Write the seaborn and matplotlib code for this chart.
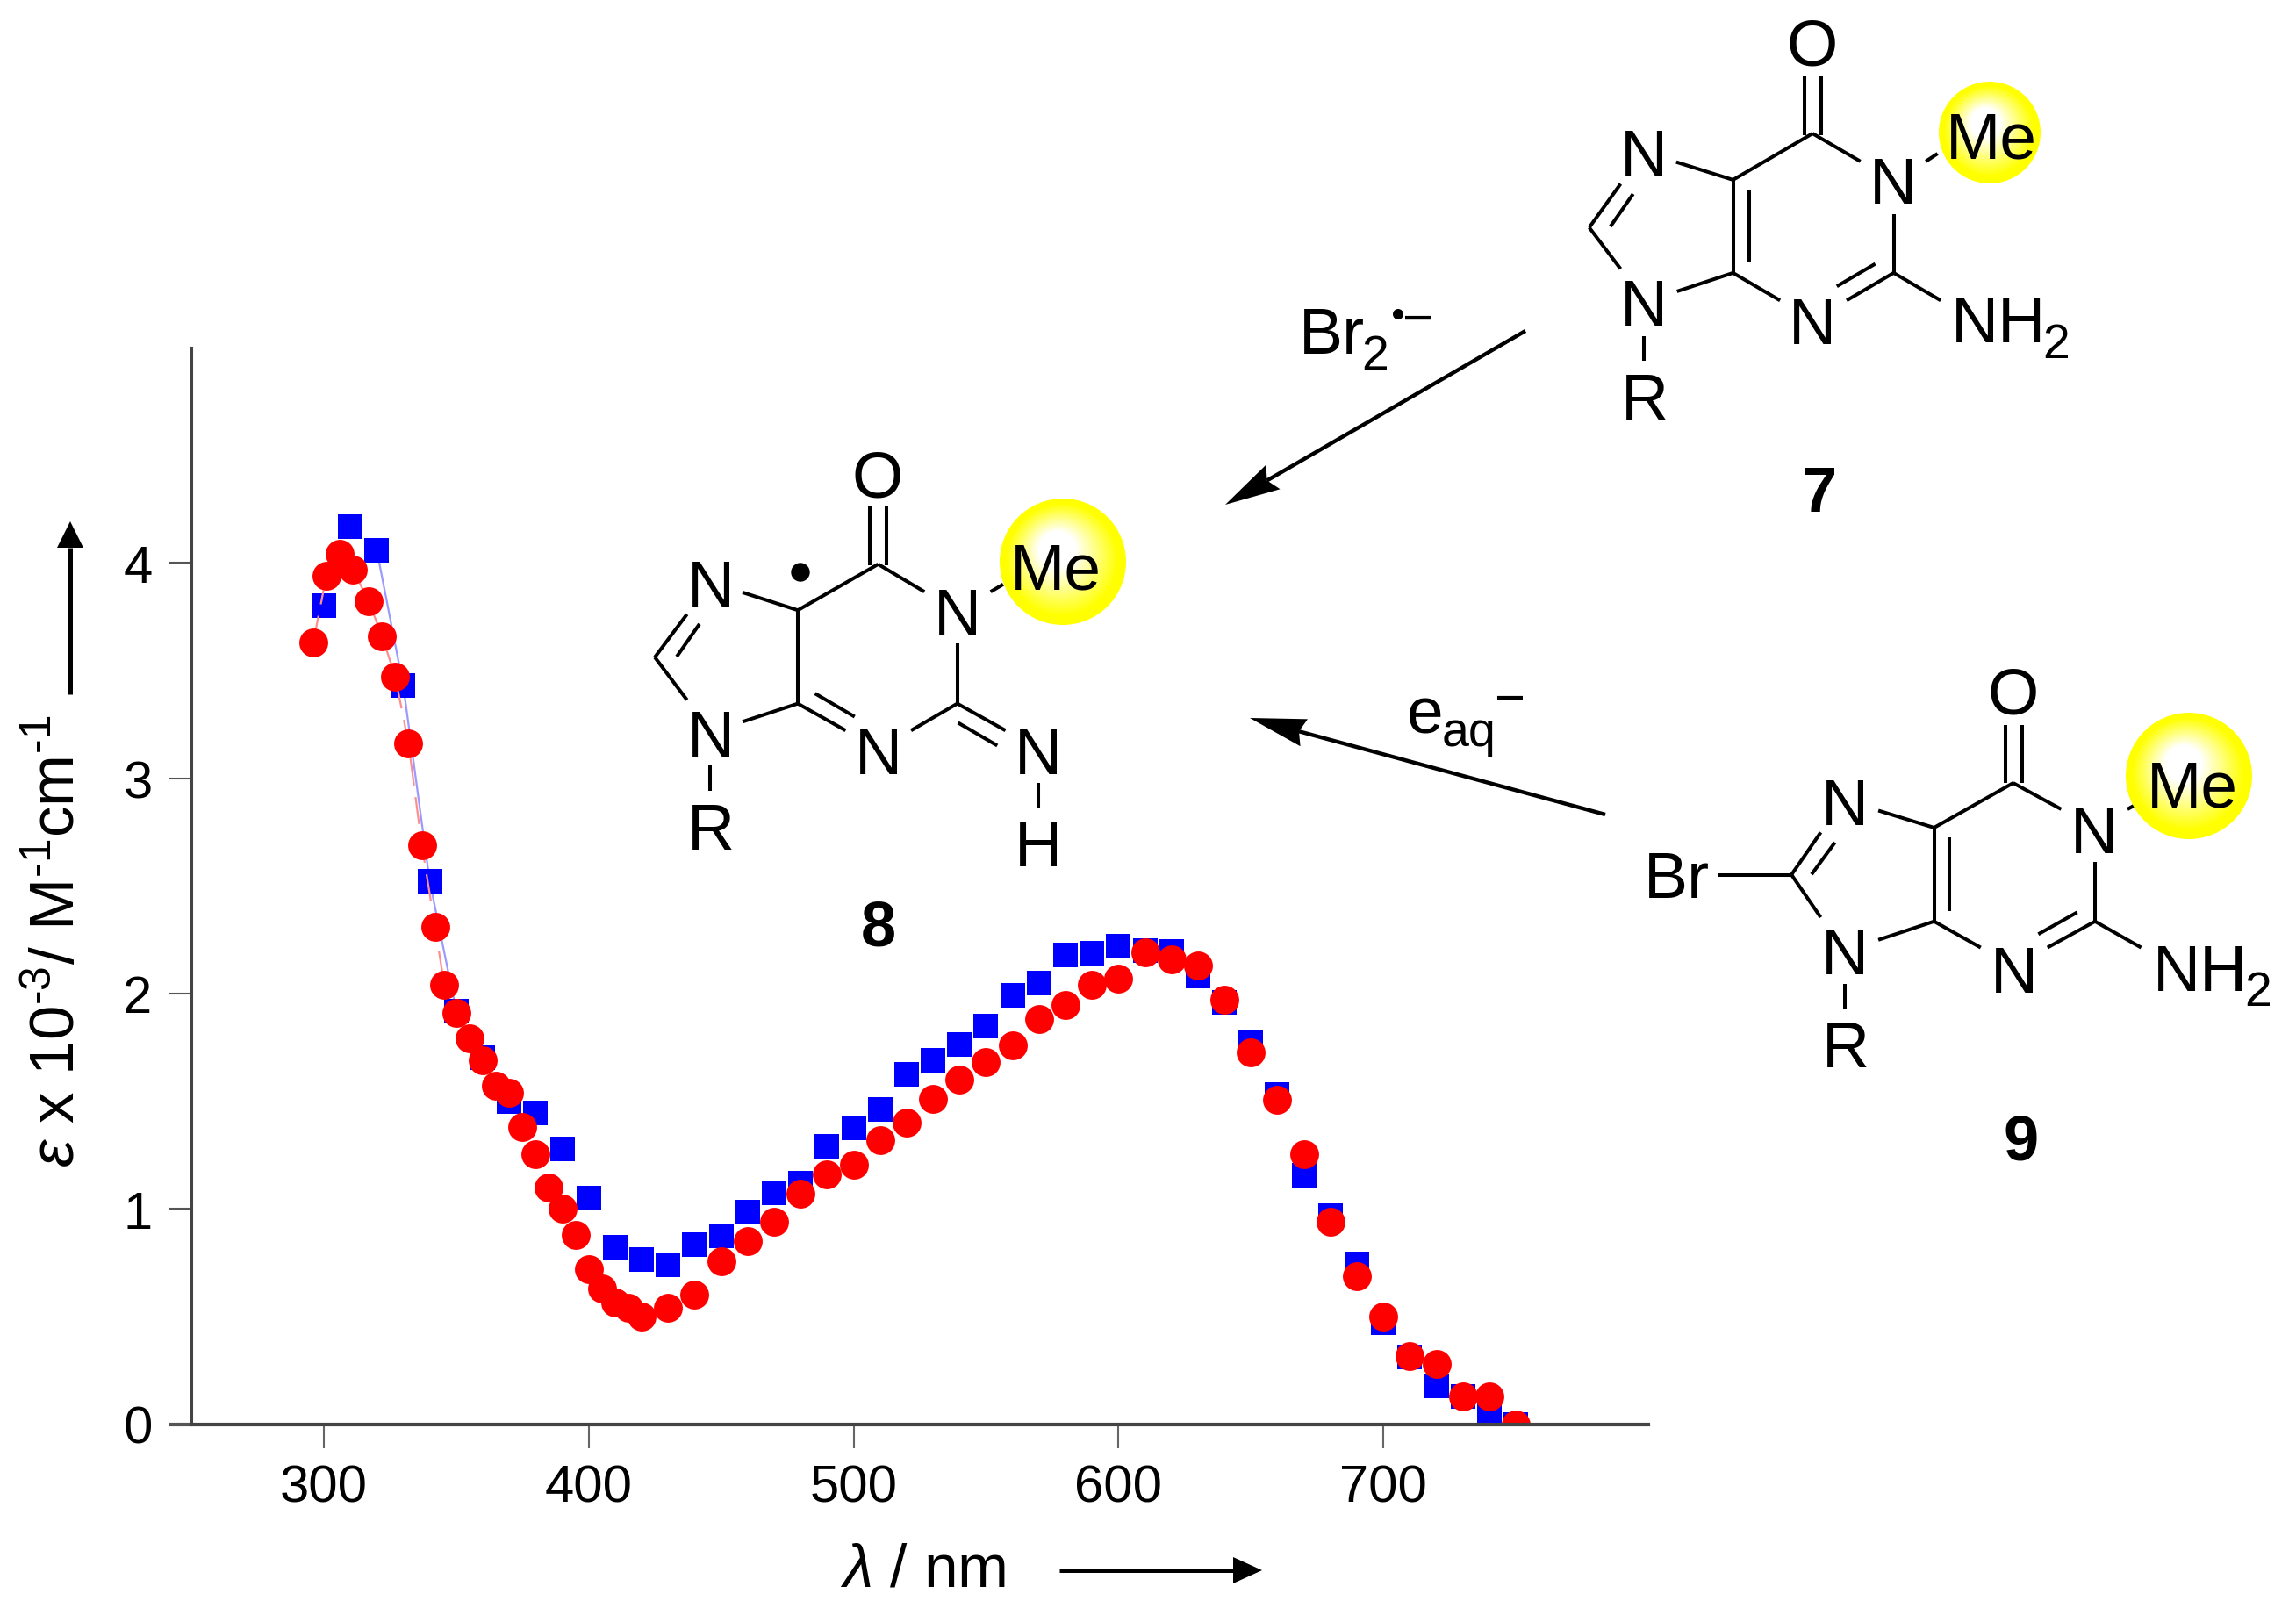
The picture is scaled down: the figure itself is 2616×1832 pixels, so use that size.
import matplotlib
matplotlib.use('Agg')
import matplotlib.pyplot as plt
import pandas as pd
import seaborn as sns
from matplotlib.patches import Circle, Polygon

# Spectrum values
wavelength_blue = [300, 310, 320, 330, 340, 350, 360, 370, 380, 390, 400, 410, 420, 430, 440, 450,
                   460, 470, 480, 490, 500, 510, 520, 530, 540, 550, 560, 570, 580, 590, 600, 610,
                   620, 630, 640, 650, 660, 670, 680, 690, 700, 710, 720, 730, 740, 750]
epsilon_blue = [3.80, 4.17, 4.06, 3.43, 2.52, 1.92, 1.70, 1.50, 1.445, 1.277, 1.05, 0.82, 0.765, 0.74, 0.833, 0.873,
                0.986, 1.076, 1.117, 1.29, 1.375, 1.46, 1.626, 1.69, 1.765, 1.85, 1.99, 2.05, 2.178, 2.187, 2.22, 2.20,
                2.196, 2.08, 1.96, 1.775, 1.53, 1.156, 0.97, 0.742, 0.47, 0.31, 0.178, 0.127, 0.04, 0.0]
wavelength_red = [296, 301, 306, 311, 317, 322, 327, 332, 337, 342, 345.5, 350, 355, 360, 365, 370, 375, 380,
                  385, 390, 395, 400, 405, 410, 415, 420, 430, 440, 450, 460, 470, 480, 490, 500, 510, 520,
                  530, 540, 550, 560, 570, 580, 590, 600, 610, 620, 630, 640, 650, 660, 670, 680, 690, 700,
                  710, 720, 730, 740, 750]
epsilon_red = [3.63, 3.94, 4.04, 3.97, 3.82, 3.66, 3.47, 3.16, 2.69, 2.31, 2.04, 1.91, 1.79, 1.69, 1.57, 1.54, 1.38, 1.255,
               1.10, 1.00, 0.877, 0.72, 0.63, 0.565, 0.54, 0.50, 0.54, 0.60, 0.755, 0.85, 0.94, 1.07, 1.16, 1.205, 1.32, 1.40,
               1.51, 1.60, 1.68, 1.76, 1.88, 1.945, 2.04, 2.07, 2.19, 2.16, 2.13, 1.97, 1.725, 1.505, 1.255, 0.94, 0.687, 0.50,
               0.315, 0.28, 0.127, 0.127, 0.0]
x_ticks = [300, 400, 500, 600, 700]
y_ticks = [0, 1, 2, 3, 4]

df_blue = pd.DataFrame({'wavelength': wavelength_blue, 'epsilon': epsilon_blue})
df_red = pd.DataFrame({'wavelength': wavelength_red, 'epsilon': epsilon_red})

sns.set_style('ticks')
plt.rcParams['font.family'] = ['Liberation Sans', 'DejaVu Sans']
plt.rcParams['text.color'] = 'black'
plt.rcParams['mathtext.fontset'] = 'custom'
plt.rcParams['mathtext.rm'] = 'Liberation Sans'
plt.rcParams['mathtext.it'] = 'Liberation Sans:italic'
plt.rcParams['mathtext.bf'] = 'Liberation Sans:bold'

W, H = 2616, 1833
fig = plt.figure(figsize=(W / 100, H / 100), dpi=100, facecolor='white')
ax = fig.add_axes([218 / W, (H - 1623.5) / H, 1660 / W, 1226.5 / H])

# thin guide lines only show on the steep part of the band
sns.lineplot(data=df_blue[df_blue['wavelength'].between(320, 350)], x='wavelength', y='epsilon', ax=ax,
             color='#9a9aff', lw=1.6, estimator=None, sort=False, zorder=2)
sns.scatterplot(data=df_blue, x='wavelength', y='epsilon', ax=ax, marker='s', s=430, color='#0000ff',
                linewidth=0, zorder=2.1)
line_red = sns.lineplot(data=df_red[df_red['wavelength'] <= 345.5], x='wavelength', y='epsilon', ax=ax,
                        color='#ff8f8f', lw=1.6, estimator=None, sort=False, zorder=2.2)
line_red.lines[-1].set_dashes((14, 6))
sns.scatterplot(data=df_red, x='wavelength', y='epsilon', ax=ax, marker='o', s=560, color='#ff0000',
                linewidth=0, zorder=2.3)

ax.set_xlim(250, 800)
ax.set_ylim(0, 5)
ax.set_xticks(x_ticks)
ax.set_yticks(y_ticks)
ax.tick_params(axis='x', length=19.5, width=1.5, color='#666666', labelsize=43, pad=13, labelcolor='black')
ax.tick_params(axis='y', length=19, width=1.5, color='#555555', labelsize=43, pad=13, labelcolor='black')
ax.yaxis.get_major_ticks()[0].tick1line.set_markeredgewidth(3)
ax.yaxis.get_major_ticks()[0].tick1line.set_color('#444444')
sns.despine(ax=ax)
ax.spines['bottom'].set_linewidth(3)
ax.spines['bottom'].set_color('#444444')
ax.spines['left'].set_linewidth(2.2)
ax.spines['left'].set_color('#444444')

ax.set_xlabel(r'$\mathit{λ}$ / nm', fontsize=50, color='black', va='center')
ax.xaxis.set_label_coords(0.502, -0.135)
ax.set_ylabel(r'$\mathit{ε}$ x 10$^{\text{-3}}$/ M$^{\text{-1}}$cm$^{\text{-1}}$', fontsize=51, color='black', va='center')
ax.yaxis.set_label_coords(-0.0916, 0.449)

# Overlay in picture pixels for the structures and arrows
over = fig.add_axes([0, 0, 1, 1], facecolor='none')
over.set_xlim(0, W)
over.set_ylim(H, 0)
over.axis('off')


def arrow(tail, tip, lw, head_len, half_w, notch):
    dx, dy = tip[0] - tail[0], tip[1] - tail[1]
    n = (dx ** 2 + dy ** 2) ** 0.5
    ux, uy = dx / n, dy / n
    bx, by = tip[0] - ux * head_len, tip[1] - uy * head_len
    nx, ny = tip[0] - ux * notch, tip[1] - uy * notch
    over.plot([tail[0], nx], [tail[1], ny], color='black', lw=lw, solid_capstyle='butt')
    over.add_patch(Polygon([tip, (bx - uy * half_w, by + ux * half_w), (nx, ny), (bx + uy * half_w, by - ux * half_w)],
                           closed=True, fc='black', ec='none'))


def ball(cx, cy, r):
    # yellow ball, the white highlight sits above and a little left of the middle
    steps = 40
    for i in range(steps):
        t = i / (steps - 1)
        rad = r * (1 - t)
        shade = min(1, max(0, (t - 0.1) / 0.6))
        over.add_patch(Circle((cx - r * 0.12 * t, cy - r * 0.27 * t), rad, fc=(1, 1, shade), ec='none', zorder=3))


def draw_molecule(bonds, labels, ox, oy, sx, sy):
    for (x0, y0, x1, y1) in bonds:
        over.plot([ox + x0 / sx, ox + x1 / sx], [oy + y0 / sy, oy + y1 / sy], color='black', lw=2.9,
                  solid_capstyle='butt', zorder=2)
    for (x, y, s) in labels:
        # y is the middle of the capital letters, 27 px above the baseline
        over.text(ox + x / sx, oy + y / sy + 27, s, fontsize=54, ha='center', va='baseline', color='black', zorder=4)


bonds_8 = [(696, 255, 696, 432), (740, 255, 740, 432), (718, 428, 513, 565), (718, 428, 836, 510),
           (372, 512, 513, 565), (513, 565, 513, 843), (372, 897, 513, 843), (513, 843, 635, 923),
           (557, 813, 658, 882), (802, 923, 920, 843), (920, 843, 920, 665), (920, 843, 1043, 923),
           (922, 900, 1022, 968), (230, 577, 148, 705), (262, 606, 204, 703), (148, 705, 230, 832),
           (288, 1027, 288, 1103), (1127, 1080, 1127, 1155), (1005, 510, 1037, 488)]
labels_8 = [(716, 155, 'O'), (290, 480, 'N'), (920, 565, 'N'), (290, 928, 'N'), (718, 980, 'N'),
            (1127, 980, 'N'), (1127, 1255, 'H'), (290, 1205, 'R'), (1172, 430, 'Me')]
ball(1211, 641, 72)
draw_molecule(bonds_8, labels_8, 680, 480, 2.24, 2.613)
over.add_patch(Circle((912, 653), 10.7, fc='black', ec='none', zorder=4))
over.text(1001, 1054 + 24, '8', fontsize=52, fontweight='bold', ha='center', va='baseline')

bonds_7 = [(797, 230, 797, 405), (840, 230, 840, 405), (818, 400, 615, 538), (818, 400, 940, 483),
           (470, 485, 615, 538), (615, 538, 615, 815), (657, 568, 657, 785), (472, 870, 615, 815),
           (615, 815, 735, 897), (905, 897, 1025, 815), (880, 855, 978, 788), (1025, 815, 1025, 640),
           (1025, 815, 1145, 897), (328, 550, 248, 680), (360, 580, 302, 677), (248, 680, 328, 803),
           (388, 1003, 388, 1076), (1107, 483, 1137, 460)]
labels_7 = [(818, 125, 'O'), (388, 452, 'N'), (1023, 536, 'N'), (388, 900, 'N'), (818, 953, 'N'),
            (390, 1178, 'R'), (1275, 400, 'Me')]
ball(2267, 152, 58)
draw_molecule(bonds_7, labels_7, 1700, 0, 2.24, 2.613)
over.text(2223, 390, 'NH', fontsize=54, ha='left', va='baseline', zorder=4)
over.text(2327, 408, '2', fontsize=40, ha='left', va='baseline', zorder=4)
over.text(2073, 557 + 26, '7', fontsize=52, fontweight='bold', ha='center', va='baseline')

bonds_9 = [(932, 228, 932, 400), (967, 228, 967, 400), (948, 400, 775, 533), (948, 400, 1053, 478),
           (653, 482, 775, 533), (775, 533, 775, 812), (808, 563, 808, 780), (653, 867, 775, 812),
           (775, 812, 877, 890), (1023, 890, 1127, 812), (1003, 850, 1088, 785), (1127, 812, 1127, 635),
           (1127, 812, 1228, 890), (527, 547, 463, 673), (558, 577, 507, 672), (463, 673, 527, 800),
           (303, 673, 463, 673), (580, 997, 580, 1072), (1198, 478, 1225, 458)]
labels_9 = [(948, 122, 'O'), (580, 452, 'N'), (1125, 535, 'N'), (580, 897, 'N'), (950, 950, 'N'),
            (582, 1172, 'R'), (1340, 398, 'Me')]
ball(2494, 885, 72)
draw_molecule(bonds_9, labels_9, 1800, 740, 1.92, 2.613)
over.text(2453, 1129, 'NH', fontsize=54, ha='left', va='baseline', zorder=4)
over.text(2557, 1146, '2', fontsize=40, ha='left', va='baseline', zorder=4)
over.text(1873, 1023, 'Br', fontsize=54, ha='left', va='baseline', zorder=4)
over.text(2303, 1296 + 26, '9', fontsize=52, fontweight='bold', ha='center', va='baseline')

# Reaction arrows and their labels
arrow((1738, 378), (1396, 576), 3.2, 63, 16, 55)
over.text(1480, 403, 'Br', fontsize=54, ha='left', va='baseline')
over.text(1551, 421, '2', fontsize=40, ha='left', va='baseline')
over.add_patch(Circle((1593, 359), 6, fc='black', ec='none'))
over.text(1614, 382, '\u2212', fontsize=43, ha='center', va='baseline')

arrow((1829, 929), (1424, 819), 3.2, 64, 16, 58)
over.text(1603, 835, 'e', fontsize=54, ha='left', va='baseline')
over.text(1643, 850, 'aq', fontsize=40, ha='left', va='baseline')
over.text(1719, 815, '\u2212', fontsize=43, ha='center', va='baseline')

# Axis direction arrows
arrow((1207, 1790), (1438, 1790), 3.6, 33, 15, 33)
arrow((80, 792), (80, 595), 3.6, 30, 15, 30)

fig.savefig('out.png', dpi=100, facecolor='white')
